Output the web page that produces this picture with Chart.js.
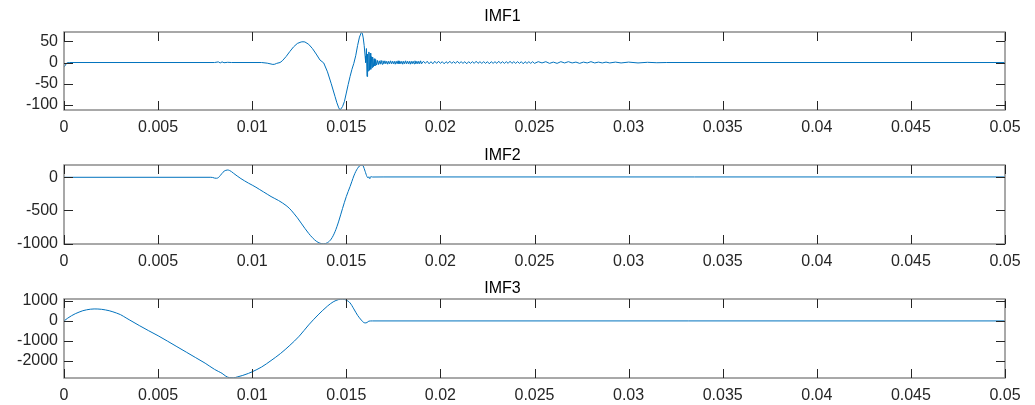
<!DOCTYPE html>
<html>
<head>
<meta charset="utf-8">
<title>IMF</title>
<script src="https://cdn.jsdelivr.net/npm/chart.js@4.4.1/dist/chart.umd.min.js"></script>
<style>
    html, body { margin: 0; padding: 0; background: #fff; }
    #wrap { position: relative; width: 1035px; height: 405px; overflow: hidden; }
    .panel { position: absolute; left: 0; }
</style>
</head>
<body>
<div id="wrap">
    <div class="panel" style="top:0px"><canvas id="imf1Chart" width="1035" height="138"></canvas></div>
    <div class="panel" style="top:138px"><canvas id="imf2Chart" width="1035" height="134"></canvas></div>
    <div class="panel" style="top:272px"><canvas id="imf3Chart" width="1035" height="133"></canvas></div>
</div>
<script>
// shared time axis
const xTicks = [0, 0.005, 0.01, 0.015, 0.02, 0.025, 0.03, 0.035, 0.04, 0.045, 0.05];
const xTickLabels = ["0", "0.005", "0.01", "0.015", "0.02", "0.025", "0.03", "0.035", "0.04", "0.045", "0.05"];

// IMF1
const imf1T = [0, 0.00015, 0.0003, 0.008, 0.0082, 0.0083, 0.0084, 0.0085, 0.0087, 0.0089,
    0.0105, 0.0108, 0.011, 0.0111, 0.0112, 0.0113, 0.01148, 0.0116, 0.0118, 0.012,
    0.0122, 0.0124, 0.0126, 0.0127, 0.0128, 0.013, 0.0132, 0.0134, 0.0136, 0.0138,
    0.014, 0.0142, 0.0144, 0.0145, 0.0146, 0.01467, 0.0148, 0.0149, 0.015, 0.0151,
    0.0152, 0.0153, 0.0154, 0.0155, 0.0156, 0.0157, 0.0158, 0.01585, 0.0159, 0.01595,
    0.016, 0.01603, 0.01607, 0.0161, 0.01613, 0.01616, 0.0162, 0.01623, 0.01627, 0.0163,
    0.01633, 0.01637, 0.0164, 0.01644, 0.01648, 0.01652, 0.01656, 0.0166, 0.01665, 0.0167,
    0.01675, 0.0168, 0.01685, 0.0169, 0.01695, 0.017, 0.01705, 0.0171, 0.01715, 0.0172,
    0.01725, 0.0173, 0.01735, 0.0174, 0.01745, 0.0175, 0.01755, 0.0176, 0.01765, 0.0177,
    0.01775, 0.0178, 0.01785, 0.0179, 0.01795, 0.018, 0.01805, 0.0181, 0.01815, 0.0182,
    0.01825, 0.0183, 0.01835, 0.0184, 0.01845, 0.0185, 0.01855, 0.0186, 0.01865, 0.0187,
    0.01875, 0.0188, 0.01885, 0.0189, 0.01895, 0.019, 0.0191, 0.0192, 0.0193, 0.0194,
    0.0195, 0.0196, 0.0197, 0.0198, 0.0199, 0.02, 0.0201, 0.0202, 0.0203, 0.0204,
    0.0205, 0.0206, 0.0207, 0.0208, 0.0209, 0.021, 0.0211, 0.0212, 0.0213, 0.0214,
    0.0215, 0.0216, 0.0217, 0.0218, 0.0219, 0.022, 0.0221, 0.0222, 0.0223, 0.0224,
    0.0225, 0.0226, 0.0227, 0.0228, 0.0229, 0.023, 0.0231, 0.0232, 0.0233, 0.0234,
    0.0235, 0.0236, 0.0237, 0.0238, 0.0239, 0.024, 0.0241, 0.0242, 0.0243, 0.0244,
    0.0245, 0.0246, 0.0247, 0.0248, 0.0249, 0.025, 0.0252, 0.0254, 0.0256, 0.0258,
    0.026, 0.0262, 0.0264, 0.0266, 0.0268, 0.027, 0.0272, 0.0274, 0.0276, 0.0278,
    0.028, 0.0282, 0.0284, 0.0286, 0.0288, 0.029, 0.0293, 0.0296, 0.03, 0.0305,
    0.031, 0.0315, 0.032, 0.05];
const imf1V = [-11, -1, 0, 0, 1.5, -1, 1.5, -0.5, 0.5, 0,
    0, -1.5, -3.5, -4.5, -4, -2, 0, 4, 14, 26,
    37, 45, 48.5, 49, 48.5, 43, 33, 20, 6, -1,
    -22, -50, -80, -95, -107, -112, -104, -92, -72, -52,
    -33, -16, -2, 16, 40, 60, 71, 69, 58, 40,
    15, 0, 33, -33, 20, -20, 25, -18, 22, -16,
    14, -12, 13, -10, 9, -8, 7, -6, 5, -5,
    4, -4, 5, -4, 4, -3, 4, -3, 3, -4,
    3, -3, 4, -3, 3, -3, 3, -4, 3, -3,
    4, -3, 3, -3, 3, -4, 3, -3, 4, -3,
    3, -3, 3, -4, 3, -3, 3, -3, 4, -3,
    3, -3, 3, -3, 4, -3, 3, -2, 3, -3,
    2, -3, 3, -2, 3, -2, 2, -3, 2, -2,
    3, -2, 2, -2, 3, -2, 2, -2, 2, -3,
    2, -2, 2, -2, 3, -2, 2, -2, 2, -2,
    2, -3, 2, -2, 2, -2, 3, -2, 2, -2,
    2, -2, 3, -2, 2, -2, 2, -2, 2, -3,
    2, -2, 2, -2, 2, -2, 2, -1, 2, -2,
    1, -2, 2, -1, 2, -1, 1, -2, 1, -1,
    2, -1, 1, -1, 1, -1, 1, -1, 1, -1,
    0.5, -0.5, 0, 0];
const imf1Ticks = [-100, -50, 0, 50];

// IMF2
const imf2T = [0, 0.0078, 0.0079, 0.008, 0.0081, 0.0082, 0.0083, 0.0084, 0.0085, 0.0086,
    0.0087, 0.0088, 0.0089, 0.009, 0.0092, 0.0094, 0.0096, 0.0098, 0.01, 0.0102,
    0.0104, 0.0106, 0.0108, 0.011, 0.0112, 0.0114, 0.0116, 0.0118, 0.012, 0.0122,
    0.0124, 0.0126, 0.0128, 0.013, 0.0132, 0.0134, 0.0136, 0.0138, 0.014, 0.0142,
    0.0144, 0.0146, 0.0148, 0.015, 0.0152, 0.0153, 0.0154, 0.0155, 0.0156, 0.0157,
    0.0158, 0.01588, 0.0159, 0.016, 0.0161, 0.01616, 0.0162, 0.01625, 0.0163, 0.0164,
    0.017, 0.05];
const imf2V = [0, 0, -3, -12, -15, -5, 25, 60, 90, 105,
    110, 102, 85, 62, 20, -20, -55, -88, -118, -150,
    -185, -220, -255, -290, -320, -350, -385, -425, -475, -540,
    -610, -690, -770, -845, -910, -962, -993, -1003, -985, -930,
    -820, -660, -470, -290, -140, -60, 20, 85, 135, 170,
    184, 178, 170, 90, 10, -10, 8, -22, 10, 4,
    5, 5];
const imf2Ticks = [-1000, -500, 0];

// IMF3
const imf3T = [0, 0.0002, 0.0004, 0.0006, 0.0008, 0.001, 0.0012, 0.0014, 0.0016, 0.0018,
    0.002, 0.0022, 0.0024, 0.0026, 0.0028, 0.003, 0.0033, 0.0035, 0.004, 0.0045,
    0.005, 0.0055, 0.006, 0.0065, 0.007, 0.0075, 0.008, 0.0082, 0.0084, 0.0086,
    0.0088, 0.009, 0.0092, 0.0095, 0.0098, 0.01, 0.0105, 0.011, 0.0115, 0.012,
    0.0125, 0.013, 0.0135, 0.014, 0.0143, 0.0146, 0.0148, 0.015, 0.0152, 0.0154,
    0.0156, 0.0158, 0.0159, 0.016, 0.0161, 0.0162, 0.0164, 0.05];
const imf3V = [0, 140, 260, 360, 440, 510, 555, 585, 598, 595,
    580, 550, 510, 455, 390, 315, 150, 40, -230, -490,
    -740, -1010, -1285, -1560, -1835, -2110, -2420, -2520, -2620, -2760,
    -2835, -2840, -2800, -2720, -2620, -2540, -2300, -1980, -1630, -1220,
    -760, -200, 300, 740, 950, 1070, 1090, 1040, 900, 600,
    280, 40, -60, -100, -80, -10, 0, 0];
const imf3Ticks = [-2000, -1000, 0, 1000];

const fontFamily = "'Liberation Sans', Arial, sans-serif";
const lineColor = "#0072BD";

// MATLAB style box with inward ticks on all four sides
const matlabBox = {
    id: "matlabBox",
    afterDatasetsDraw: function (chart) {
        const ctx = chart.ctx;
        const a = chart.chartArea;
        const xs = chart.scales.x;
        const ys = chart.scales.y;
        const len = 9;
        ctx.save();
        ctx.lineWidth = 1.5;
        ctx.strokeStyle = "#8c8c8c";
        ctx.strokeRect(a.left, a.top, a.right - a.left, a.bottom - a.top);
        ctx.lineWidth = 1;
        ctx.strokeStyle = "#262626";
        ctx.beginPath();
        xs.ticks.forEach(function (t) {
            let px = Math.round(xs.getPixelForValue(t.value)) + 0.5;
            ctx.moveTo(px, a.bottom);
            ctx.lineTo(px, a.bottom - len);
            ctx.moveTo(px, a.top);
            ctx.lineTo(px, a.top + len);
        });
        ys.ticks.forEach(function (t) {
            let py = Math.round(ys.getPixelForValue(t.value)) + 0.5;
            ctx.moveTo(a.left, py);
            ctx.lineTo(a.left + len, py);
            ctx.moveTo(a.right, py);
            ctx.lineTo(a.right - len, py);
        });
        ctx.stroke();
        ctx.restore();
    }
};

function makePanel(id, title, tArr, vArr, yMin, yMax, yTicks, titlePad, xHeight, smooth) {
    const points = tArr.map(function (t, i) { return { x: t, y: vArr[i] }; });
    return new Chart(id, {
        type: "scatter",
        data: {
            datasets: [{
                label: title,
                data: points,
                showLine: true,
                borderColor: lineColor,
                borderWidth: 1,
                pointRadius: 0,
                cubicInterpolationMode: smooth ? "monotone" : "default",
                tension: 0
            }]
        },
        options: {
            responsive: false,
            animation: false,
            devicePixelRatio: 1,
            layout: { padding: { left: 0, right: 30, top: 0, bottom: 0 } },
            scales: {
                x: {
                    type: "linear",
                    min: 0,
                    max: 0.05,
                    grid: { display: false, drawTicks: false },
                    border: { display: false },
                    afterBuildTicks: function (scale) {
                        scale.ticks = xTicks.map(function (v) { return { value: v }; });
                    },
                    afterFit: function (scale) { scale.height = xHeight; },
                    ticks: {
                        autoSkip: false,
                        maxRotation: 0,
                        padding: 8,
                        color: "#262626",
                        font: { family: fontFamily, size: 16 },
                        callback: function (val, i) { return xTickLabels[i]; }
                    }
                },
                y: {
                    min: yMin,
                    max: yMax,
                    grid: { display: false, drawTicks: false },
                    border: { display: false },
                    afterBuildTicks: function (scale) {
                        scale.ticks = yTicks.map(function (v) { return { value: v }; });
                    },
                    afterFit: function (scale) { scale.width = 64; },
                    ticks: {
                        padding: 6,
                        color: "#262626",
                        font: { family: fontFamily, size: 16 },
                        callback: function (val) { return String(val); }
                    }
                }
            },
            plugins: {
                legend: { display: false },
                tooltip: { enabled: false },
                title: {
                    display: true,
                    text: title,
                    color: "#000",
                    font: { family: fontFamily, size: 16, weight: "normal", lineHeight: 1 },
                    padding: titlePad
                }
            }
        },
        plugins: [matlabBox]
    });
}

document.addEventListener("DOMContentLoaded", function () {
    makePanel("imf1Chart", "IMF1", imf1T, imf1V, -112, 72, imf1Ticks, { top: 9, bottom: 7 }, 28, false);
    makePanel("imf2Chart", "IMF2", imf2T, imf2V, -1005, 185, imf2Ticks, { top: 10, bottom: 1 }, 28, true);
    makePanel("imf3Chart", "IMF3", imf3T, imf3V, -2850, 1095, imf3Ticks, { top: 9, bottom: 2 }, 27, true);
});
</script>
</body>
</html>
